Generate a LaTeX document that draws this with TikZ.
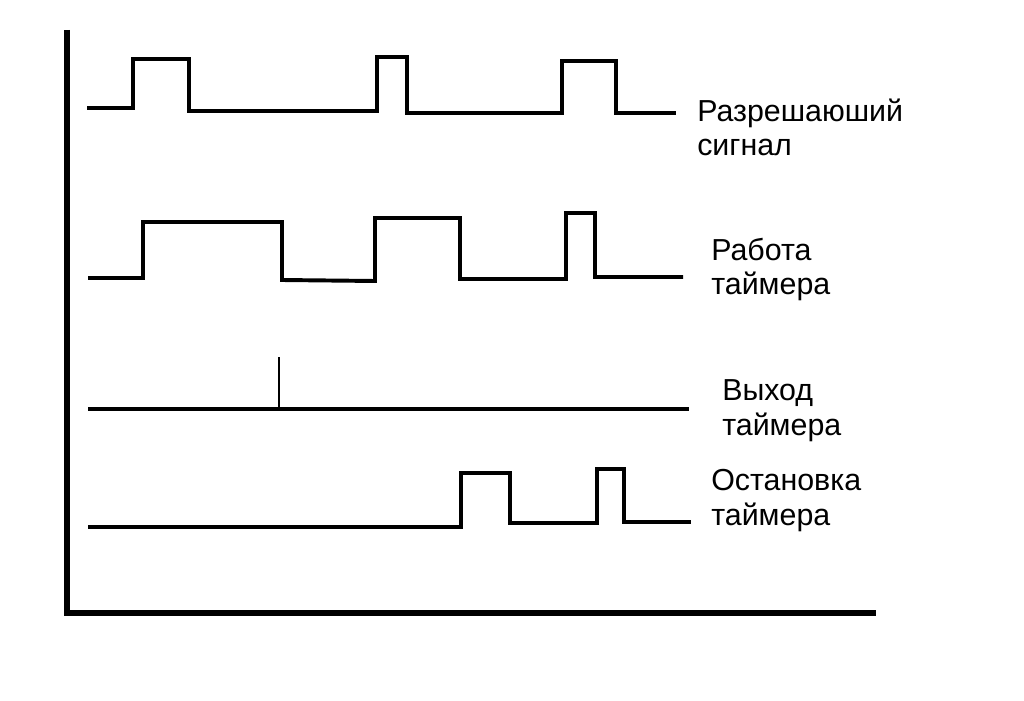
\documentclass[tikz,border=0pt]{standalone}
\usepackage{fontspec}
\setmainfont{Liberation Sans}
\usetikzlibrary{calc}

\begin{document}
\begin{tikzpicture}[x=0.025cm, y=-0.025cm,
  signal/.style={line width=2.8pt, line join=miter},
  axis/.style={line width=4pt},
  lbl/.style={anchor=base west, align=left, inner sep=0pt,
    font=\fontsize{21.6}{24.3}\selectfont}]
\useasboundingbox (0,0) rectangle (1024,701);
\coordinate (O) at (67,613);
\coordinate (Y) at (67,30);
\coordinate (X) at (876,613);
\draw[axis] (Y) -- (O) -- (X);

% enable signal
\draw[signal] (87,108) -- (133,108) -- (133,59) -- (189,59) -- (189,111) -- (377,111) -- (377,57) -- (407,57) -- (407,113) -- (562,113) -- (562,61) -- (616,61) -- (616,113) -- (676,113);
% timer running
\draw[signal] (88,278) -- (143,278) -- (143,222) -- (282,222) -- (282,280) -- (375,281) -- (375,218) -- (460,218) -- (460,279) -- (566,279) -- (566,213) -- (595,213) -- (595,277) -- (683,277);
% timer output
\draw[signal] (88,409) -- (689,409);
\draw[line width=2pt] (279,409) -- (279,357);
% timer stop
\draw[signal] (88,527) -- (461,527) -- (461,473) -- (510,473) -- (510,523) -- (597,523) -- (597,469) -- (624,469) -- (624,522) -- (691,522);

\node[lbl] (enable) at (697,156) {Разрешаюший\\сигнал};
\node[lbl] (run) at (711,295) {Работа\\таймера};
\node[lbl] (out) at (722,435) {Выход\\таймера};
\node[lbl] (stop) at (711,525) {Остановка\\таймера};
\end{tikzpicture}
\end{document}
